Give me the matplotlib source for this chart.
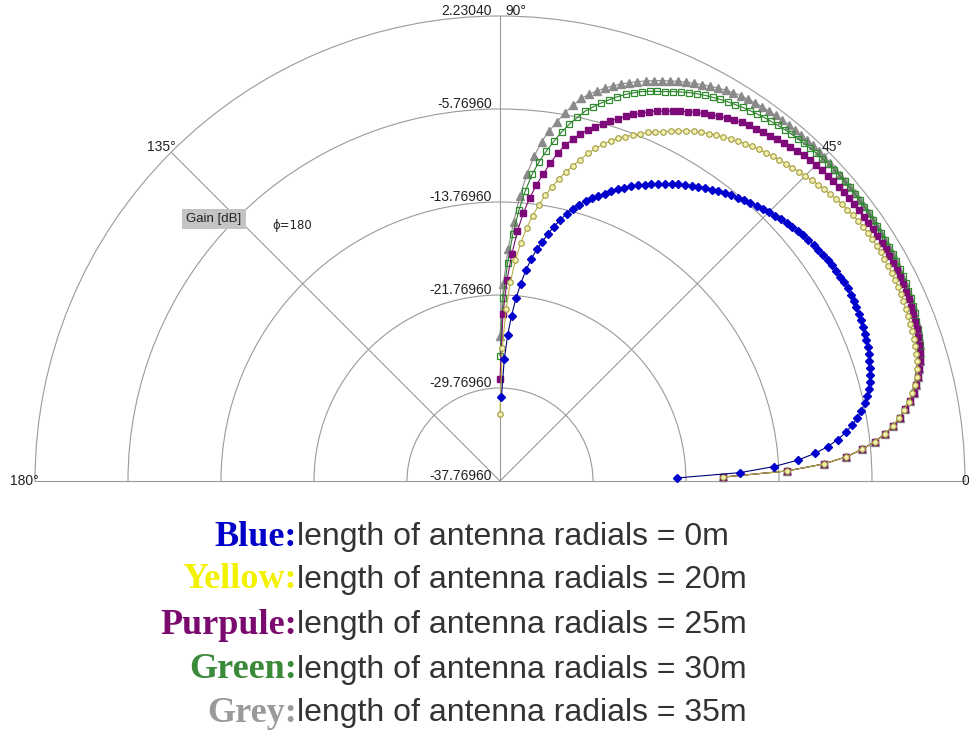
import numpy as np
import matplotlib
matplotlib.use("Agg")
import matplotlib.pyplot as plt
from matplotlib.transforms import offset_copy

# elevation angle (deg) vs gain (dB)
elevation_deg = list(range(0, 91))

gain_blue = [
    -37.77, -22.5, -17.1, -14.2, -12.1, -10.6, -9.4, -8.5, -7.75, -7.1,
    -6.55, -6.1, -5.7, -5.4, -5.1, -4.85, -4.65, -4.5, -4.35, -4.22,
    -4.1, -4.0, -3.92, -3.84, -3.77, -3.71, -3.66, -3.62, -3.6, -3.59,
    -3.6, -3.62, -3.65, -3.7, -3.76, -3.83, -3.91, -4.0, -4.1, -4.21,
    -4.33, -4.46, -4.6, -4.75, -4.9, -5.06, -5.23, -5.4, -5.58, -5.77,
    -5.96, -6.16, -6.37, -6.58, -6.8, -7.03, -7.26, -7.5, -7.75, -8.0,
    -8.26, -8.53, -8.81, -9.1, -9.4, -9.71, -10.03, -10.37, -10.72, -11.08,
    -11.46, -11.85, -12.2, -12.6, -13.05, -13.55, -14.1, -14.7, -15.4, -16.1,
    -16.9, -17.6, -18.5, -19.5, -20.7, -22.0, -23.5, -25.2, -27.3, -30.5,
    -37.77,
]

gain_yellow = [
    -37.77, -18.6, -13.1, -9.9, -7.9, -6.5, -5.35, -4.4, -3.65, -3.0,
    -2.45, -1.95, -1.5, -1.12, -0.83, -0.6, -0.45, -0.32, -0.22, -0.13,
    -0.05, 0.03, 0.1, 0.16, 0.22, 0.27, 0.31, 0.35, 0.38, 0.4,
    0.42, 0.43, 0.43, 0.42, 0.4, 0.36, 0.31, 0.24, 0.16, 0.07,
    -0.03, -0.14, -0.26, -0.38, -0.51, -0.64, -0.77, -0.9, -1.03, -1.16,
    -1.29, -1.43, -1.58, -1.74, -1.91, -2.09, -2.28, -2.48, -2.69, -2.91,
    -3.14, -3.38, -3.65, -3.95, -4.3, -4.6, -4.9, -5.2, -5.55, -5.9,
    -6.25, -6.6, -7.0, -7.5, -8.0, -8.6, -9.3, -9.95, -10.6, -11.3,
    -12.1, -12.9, -13.8, -14.8, -15.9, -17.2, -18.7, -20.6, -23.0, -26.3,
    -32.0,
]

gain_purple = [
    -37.77, -18.6, -13.1, -9.9, -7.9, -6.5, -5.35, -4.4, -3.6, -2.95,
    -2.35, -1.85, -1.4, -1.0, -0.7, -0.42, -0.2, 0.0, 0.12, 0.25,
    0.36, 0.46, 0.55, 0.63, 0.7, 0.76, 0.81, 0.85, 0.88, 0.9,
    0.91, 0.92, 0.93, 0.93, 0.93, 0.92, 0.91, 0.9, 0.88, 0.86,
    0.84, 0.82, 0.79, 0.76, 0.72, 0.67, 0.6, 0.52, 0.43, 0.32,
    0.2, 0.05, -0.08, -0.2, -0.3, -0.4, -0.57, -0.76, -0.96, -1.17,
    -1.39, -1.62, -1.86, -2.11, -2.37, -2.64, -2.92, -3.21, -3.52, -3.85,
    -4.2, -4.6, -5.0, -5.38, -5.78, -6.2, -6.65, -7.15, -7.7, -8.35,
    -9.1, -10.1, -11.1, -12.1, -13.3, -14.6, -16.2, -18.2, -20.5, -23.4,
    -29.0,
]

gain_green = [
    -37.77, -18.6, -13.1, -9.9, -7.9, -6.5, -5.35, -4.4, -3.6, -2.95,
    -2.35, -1.85, -1.4, -1.0, -0.7, -0.42, -0.15, 0.05, 0.2, 0.35,
    0.48, 0.6, 0.71, 0.81, 0.9, 0.98, 1.05, 1.11, 1.16, 1.21,
    1.25, 1.29, 1.33, 1.36, 1.39, 1.42, 1.44, 1.46, 1.48, 1.5,
    1.51, 1.52, 1.52, 1.51, 1.49, 1.46, 1.42, 1.37, 1.31, 1.26,
    1.2, 1.13, 1.05, 0.97, 0.88, 0.78, 0.67, 0.55, 0.42, 0.28,
    0.13, -0.03, -0.2, -0.39, -0.6, -0.85, -1.1, -1.38, -1.62, -1.86,
    -2.12, -2.45, -2.8, -3.2, -3.65, -4.1, -4.6, -5.1, -5.8, -6.5,
    -7.3, -8.2, -9.1, -10.1, -11.2, -12.7, -14.4, -16.5, -19.0, -22.0,
    -27.0,
]

gain_grey = [
    -37.77, -18.6, -13.1, -9.9, -7.9, -6.5, -5.35, -4.4, -3.6, -2.95,
    -2.35, -1.85, -1.4, -1.0, -0.7, -0.42, -0.17, 0.03, 0.18, 0.32,
    0.45, 0.57, 0.68, 0.78, 0.87, 0.95, 1.02, 1.08, 1.14, 1.19,
    1.24, 1.28, 1.32, 1.36, 1.39, 1.42, 1.45, 1.48, 1.51, 1.54,
    1.57, 1.6, 1.62, 1.64, 1.66, 1.68, 1.69, 1.7, 1.7, 1.7,
    1.69, 1.67, 1.65, 1.62, 1.58, 1.53, 1.47, 1.4, 1.32, 1.2,
    1.05, 0.88, 0.7, 0.5, 0.3, 0.08, -0.15, -0.38, -0.62, -0.88,
    -1.15, -1.44, -1.74, -2.06, -2.4, -2.77, -3.17, -3.62, -4.12, -4.85,
    -5.6, -6.5, -7.35, -8.35, -9.7, -11.3, -13.2, -15.5, -17.8, -20.8,
    -25.3,
]

r_min = -37.7696
r_max = 2.2304
ring_values = [-29.7696, -21.7696, -13.7696, -5.7696]
r_labels = ["2.23040", "-5.76960", "-13.76960", "-21.76960", "-29.76960", "-37.76960"]
angle_labels = ["0", "45°", "90°", "135°", "180°"]

legend_names = ["Blue:", "Yellow:", "Purpule:", "Green:", "Grey:"]
legend_texts = [
    "length of antenna radials = 0m",
    "length of antenna radials = 20m",
    "length of antenna radials = 25m",
    "length of antenna radials = 30m",
    "length of antenna radials = 35m",
]
legend_colors = ["#0000c8", "#f2f200", "#7a0a6e", "#3a8a3a", "#9a9a9a"]

GRID = "#9a9a9a"

fig = plt.figure(figsize=(9.69, 7.45), dpi=100)
# square box; the half-disc sits in its middle, so shift it so the centre lands at y=481
ax = fig.add_axes([35 / 969, 31.5 / 745, 930 / 969, 930 / 745], projection="polar")
ax.set_thetamin(0)
ax.set_thetamax(180)
ax.set_ylim(r_min, r_max)
ax.set_yticks(ring_values)
ax.set_yticklabels([])
ax.set_xticks(np.deg2rad([45, 90, 135]))
ax.set_xticklabels([])
ax.grid(True, color=GRID, lw=0.8, ls="-")
ax.tick_params(length=0)
for name in ["polar", "start", "end"]:
    ax.spines[name].set_color(GRID)
    ax.spines[name].set_linewidth(0.8)
ax.spines["inner"].set_visible(False)

theta = np.deg2rad(elevation_deg)

ax.plot(theta, gain_grey, color="#8a8a8a", lw=0.8, marker="^", ms=5.5,
        mfc="#8a8a8a", mec="#8a8a8a", clip_on=False, zorder=3)
ax.plot(theta, gain_green, color="#2e7d2e", lw=0.8, marker="s", ms=4.5,
        mfc="none", mec="#2e8b2e", mew=0.9, clip_on=False, zorder=4)
ax.plot(theta, gain_purple, color="#7a0a6e", lw=0.8, marker="s", ms=4.8,
        mfc="#7d0a78", mec="#7d0a78", clip_on=False, zorder=5)
ax.plot(theta, gain_yellow, color="#b8b040", lw=0.8, marker="o", ms=4,
        mfc="#f4f0b0", mec="#a09a40", mew=0.8, clip_on=False, zorder=6)
ax.plot(theta, gain_blue, color="#00007a", lw=0.8, marker="D", ms=3.8,
        mfc="#0000cc", mec="#0000cc", clip_on=False, zorder=7)

# radial labels along the 90 degree line
lab_tr = offset_copy(ax.transData, fig=fig, x=-8, y=5, units="dots")
for val, txt in zip([r_max, -5.7696, -13.7696, -21.7696, -29.7696, r_min], r_labels):
    ax.text(np.pi / 2, val, txt, transform=lab_tr, ha="right", va="center",
            fontsize=10, color="#222222", family="Liberation Sans")

# angle labels around the outer ring
ang_specs = [
    (0, "left", -3, 0),
    (45, "left", -7, 5),
    (90, "left", 5, 5),
    (135, "right", 5, 5),
    (180, "right", 4, 0),
]
for (deg, ha, dx, dy), txt in zip(ang_specs, angle_labels):
    tr = offset_copy(ax.transData, fig=fig, x=dx, y=dy, units="dots")
    ax.text(np.deg2rad(deg), r_max, txt, transform=tr, ha=ha, va="center",
            fontsize=10, color="#222222", family="Liberation Sans")

fig.text(214 / 969, 1 - 219 / 745, "Gain [dB]", ha="center", va="center",
         fontsize=9.5, color="#222222", family="Liberation Sans",
         bbox=dict(boxstyle="square,pad=0.3", fc="#c4c4c4", ec="none"))
fig.text(272 / 969, 1 - 225 / 745, "ϕ=180", ha="left", va="center",
         fontsize=8.5, color="#222222", family="DejaVu Sans")

# colour key below the plot
split_x = 297 / 969
line_y = [537, 580, 625, 670, 713]
for name, txt, col, y in zip(legend_names, legend_texts, legend_colors, line_y):
    fig.text(split_x, 1 - y / 745, name, ha="right", va="center", color=col,
             fontsize=26, fontweight="bold", family="Liberation Serif")
    fig.text(split_x, 1 - y / 745, txt, ha="left", va="center", color="#333333",
             fontsize=23, family="Liberation Sans")

fig.savefig("out.png", dpi=100)
